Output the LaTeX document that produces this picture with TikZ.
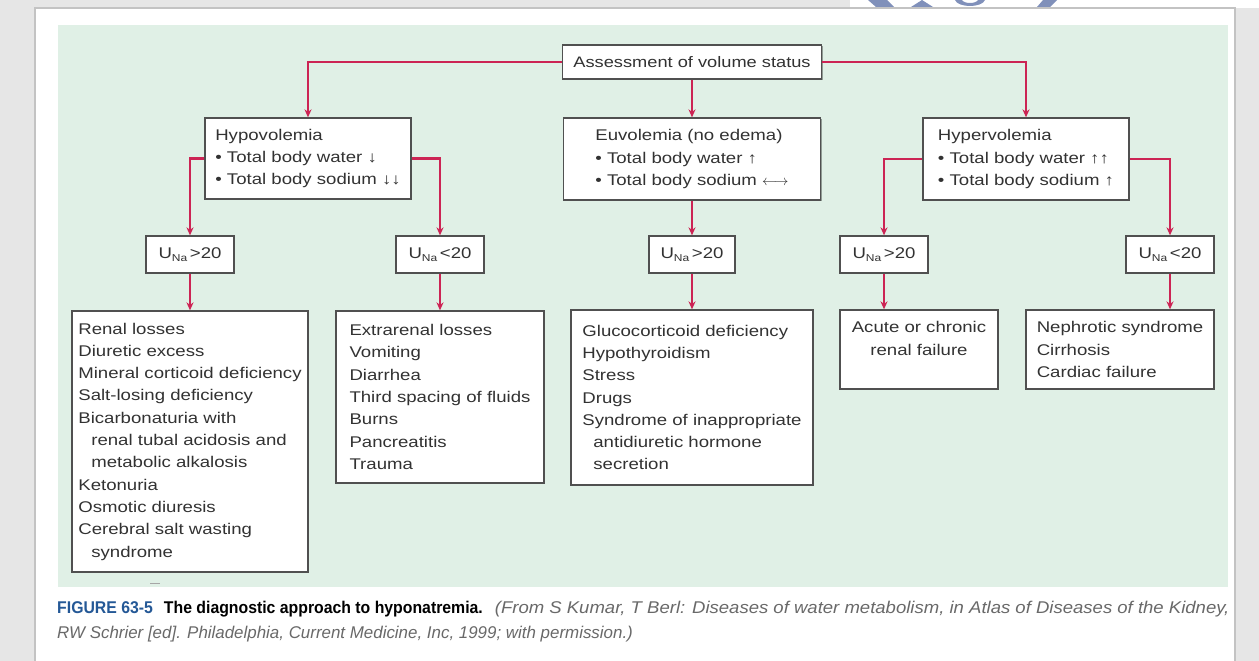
\documentclass[tikz,border=0pt]{standalone}
\usepackage{fontspec}
\setmainfont{Liberation Sans}
\newfontfamily\boxfont[FakeStretch=1.2]{Liberation Sans}
\newfontfamily\capfont[FakeStretch=0.93]{Liberation Sans}
\usetikzlibrary{shadows,arrows.meta}

\definecolor{mint}{RGB}{224,240,230}
\definecolor{linkred}{RGB}{204,36,84}
\definecolor{framegray}{RGB}{230,230,230}
\definecolor{edgegray}{RGB}{195,195,195}
\definecolor{boxline}{RGB}{80,80,80}
\definecolor{txt}{RGB}{50,50,50}
\definecolor{capblue}{RGB}{36,88,150}
\definecolor{capgray}{RGB}{105,105,105}
\definecolor{wmblue}{RGB}{128,144,186}

\tikzset{
  box/.style={draw=boxline, line width=1.3pt, fill=white, inner sep=0pt,
    font=\boxfont\fontsize{15.5}{22.3}\selectfont, text=txt, align=left,
    drop shadow={shadow xshift=1.2pt, shadow yshift=-1.2pt, fill=black, opacity=0.35}},
  link/.style={draw=linkred, line width=2.1pt, -{Stealth[length=8pt,width=7pt]}},
  capline/.style={anchor=base west, inner sep=0pt, font=\capfont\fontsize{17}{20}\selectfont}
}
\newcommand{\una}[1]{U\raisebox{-3pt}{\fontsize{10}{10}\selectfont Na}\,#1}

\begin{document}
\begin{tikzpicture}[x=1pt, y=-1pt]
\useasboundingbox (0,0) rectangle (1259,661);

% page frame
\fill[framegray] (0,0) rectangle (1259,661);
\fill[white] (850,0) rectangle (1259,8);
\fill[white] (35,8) rectangle (1235,661);
\draw[edgegray, line width=1.5pt] (35,661) -- (35,8) -- (1235,8) -- (1235,661);

% cut-off logo fragments along the top edge
\fill[wmblue] (868,0) -- (887,0) -- (894,7) -- (876,7) -- cycle;
\fill[wmblue] (911,7) -- (922,0) -- (933,7) -- cycle;
\fill[wmblue] (955,0) -- (962,0) .. controls (964,4) and (976,4) .. (978,0) -- (985,0)
  .. controls (982,8) and (958,8) .. cycle;
\fill[wmblue] (1043,0) -- (1057,0) -- (1050,7) -- (1037,7) -- cycle;

% figure panel
\fill[mint] (58,25) rectangle (1228,587);
\draw[black!35, line width=1pt] (150,583) -- (160,583);

% first level
\node[box, minimum width=259pt, minimum height=34pt] (assess) at (692,62)
  {\fontsize{15.2}{18}\selectfont Assessment of volume status};

\node[box, minimum width=206pt, minimum height=81pt] (hypo) at (308,158.5)
  {Hypovolemia\\• Total body water ↓\\• Total body sodium ↓↓};
\node[box, minimum width=257pt, minimum height=82pt] (euvo) at (692,159)
  {Euvolemia (no edema)\\• Total body water ↑\\• Total body sodium $\longleftrightarrow$};
\node[box, minimum width=206pt, minimum height=82pt] (hyper) at (1026,159)
  {Hypervolemia\\• Total body water ↑↑\\• Total body sodium ↑};

% urinary sodium
\node[box, minimum width=88pt, minimum height=37pt] (u1) at (190,254.5) {\una{>20}};
\node[box, minimum width=88pt, minimum height=37pt] (u2) at (440,254.5) {\una{<20}};
\node[box, minimum width=86pt, minimum height=37pt] (u3) at (692,254.5) {\una{>20}};
\node[box, minimum width=88pt, minimum height=37pt] (u4) at (884,254.5) {\una{>20}};
\node[box, minimum width=88pt, minimum height=37pt] (u5) at (1170,254.5) {\una{<20}};

% causes
\node[box, minimum width=236pt, minimum height=261pt] (renal) at (190,441.5)
  {Renal losses\\Diuretic excess\\Mineral corticoid deficiency\\Salt-losing deficiency\\
   Bicarbonaturia with\\\hspace*{13pt}renal tubal acidosis and\\\hspace*{13pt}metabolic alkalosis\\
   Ketonuria\\Osmotic diuresis\\Cerebral salt wasting\\\hspace*{13pt}syndrome};
\node[box, minimum width=208pt, minimum height=172pt] (extra) at (440,397)
  {Extrarenal losses\\Vomiting\\Diarrhea\\Third spacing of fluids\\Burns\\Pancreatitis\\Trauma};
\node[box, minimum width=242pt, minimum height=175pt] (gluco) at (692,397.5)
  {Glucocorticoid deficiency\\Hypothyroidism\\Stress\\Drugs\\Syndrome of inappropriate\\
   \hspace*{11pt}antidiuretic hormone\\\hspace*{11pt}secretion};
\node[box, align=center, minimum width=158pt, minimum height=79pt] (acute) at (919,349.5)
  {Acute or chronic\\renal failure\\\mbox{}};
\node[box, minimum width=188pt, minimum height=79pt] (neph) at (1120,349.5)
  {Nephrotic syndrome\\Cirrhosis\\Cardiac failure};

% connectors
\draw[link] (assess.west) -| (hypo.north);
\draw[link] (assess.east) -| (hyper.north);
\draw[link] (assess.south) -- (euvo.north);
\draw[link] (hypo.west) -| (u1.north);
\draw[link] (hypo.east) -| (u2.north);
\draw[link] (euvo.south) -- (u3.north);
\draw[link] (hyper.west) -| (u4.north);
\draw[link] (hyper.east) -| (u5.north);
\draw[link] (u1.south) -- (renal.north);
\draw[link] (u2.south) -- (extra.north);
\draw[link] (u3.south) -- (gluco.north);
\draw[link] (u4.south) -- (u4.south |- acute.north);
\draw[link] (u5.south) -- (u5.south |- neph.north);

% caption
\node[capline] (cap1) at (57,613)
  {\textcolor{capblue}{\bfseries FIGURE 63-5}\hspace{11pt}{\bfseries The diagnostic approach to hyponatremia.}\hspace{12pt}%
   \scalebox{1.172}[1]{\textcolor{capgray}{\itshape (From S Kumar, T Berl: Diseases of water metabolism, in Atlas of Diseases of the Kidney,}}};
\node[capline] (cap2) at (57,638)
  {\scalebox{1.07}[1]{\textcolor{capgray}{\itshape RW Schrier [ed]. Philadelphia, Current Medicine, Inc, 1999; with permission.)}}};
\end{tikzpicture}
\end{document}
